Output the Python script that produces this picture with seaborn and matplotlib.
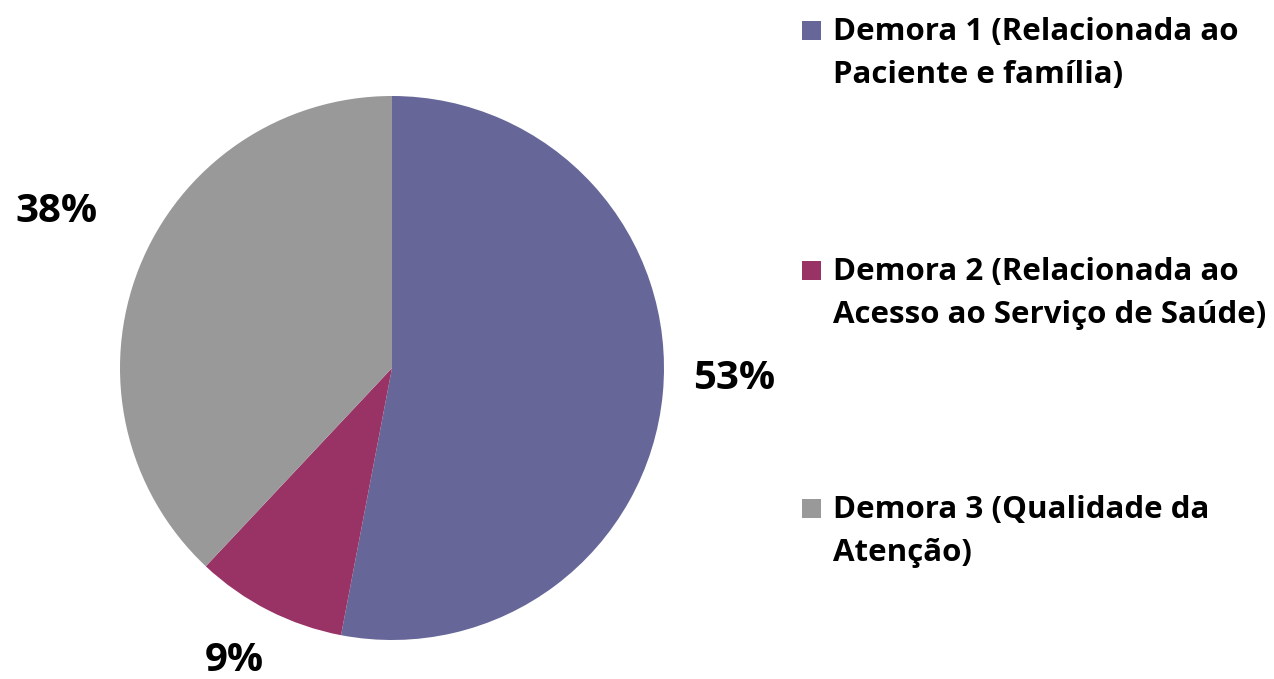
import matplotlib
matplotlib.use("Agg")
import matplotlib.pyplot as plt
import seaborn as sns
import numpy as np
from matplotlib.patches import Rectangle

sns.set_theme(style="white")
plt.rcParams['font.family'] = ['Open Sans', 'DejaVu Sans']

categories = ["Demora 1 (Relacionada ao\nPaciente e família)",
              "Demora 2 (Relacionada ao\nAcesso ao Serviço de Saúde)",
              "Demora 3 (Qualidade da\nAtenção)"]
values = [53, 9, 38]
pct_labels = ["53%", "9%", "38%"]
colors = ["#666699", "#993366", "#999999"]

W, H = 1274, 679
fig = plt.figure(figsize=(W / 100, H / 100), dpi=100)
cx, cy, r = 392, 368, 272
ax = fig.add_axes([(cx - r) / W, (H - cy - r) / H, 2 * r / W, 2 * r / H])
wedges, _ = ax.pie(values, colors=colors, startangle=90, counterclock=False,
                   radius=1.0, wedgeprops=dict(linewidth=0))
ax.set_xlim(-1, 1)
ax.set_ylim(-1, 1)
ax.set_aspect('equal')
ax.axis('off')

# percentage labels
dists = [1.26, 1.22, 1.36]
offs = [3.7, -1.3, -3.4]
for w, lab, d, o in zip(wedges, pct_labels, dists, offs):
    ang = np.deg2rad((w.theta1 + w.theta2) / 2 + o)
    ax.text(d * np.cos(ang), d * np.sin(ang), lab, ha='center', va='center',
            fontsize=29, fontweight='bold', color='black', clip_on=False)

# legend
leg_y = [20, 260, 498]
for lab, col, y in zip(categories, colors, leg_y):
    fig.patches.append(Rectangle((802 / W, 1 - (y + 20) / H), 19 / W, 19 / H,
                                 transform=fig.transFigure, facecolor=col,
                                 edgecolor='none'))
    fig.text(833 / W, 1 - (y - 3) / H, lab, ha='left', va='top',
             fontsize=22.5, fontweight='bold', color='black', linespacing=1.55)

fig.savefig("out.png", dpi=100)
